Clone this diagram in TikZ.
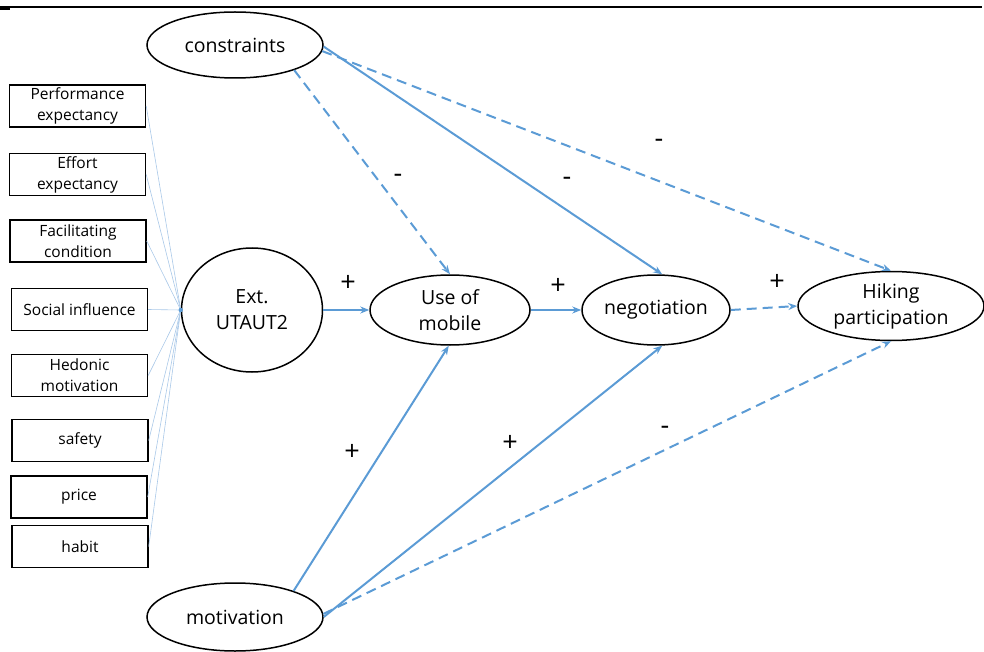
\documentclass[tikz,border=0pt]{standalone}
\usepackage{fontspec}
\setmainfont{Open Sans}
\usetikzlibrary{arrows.meta,shapes.geometric}
\definecolor{linkblue}{HTML}{5B9BD5}
\definecolor{thinblue}{HTML}{A9C8E8}

\begin{document}
\begin{tikzpicture}[x=1pt,y=-1pt,
  factor/.style={draw, line width=1.4pt, minimum width=136pt, minimum height=42pt,
    align=center, inner sep=0pt, font=\fontsize{15.5}{21}\selectfont},
  construct/.style={draw, ellipse, line width=1.5pt, align=center, inner sep=0pt,
    font=\fontsize{19.5}{26}\selectfont},
  link/.style={linkblue, line width=2pt, -{Stealth[length=9pt,width=7pt]}},
  dlink/.style={link, dash pattern=on 10pt off 6pt},
  sign/.style={font=\fontsize{27}{27}\selectfont},
  feed/.style={thinblue, line width=0.6pt}]

\useasboundingbox (0,0) rectangle (984,652);

% header rule
\draw[line width=1.5pt] (0,7) -- (982,7);
\draw[line width=2pt] (0,9) -- (10,9);

% observed factors
\node[factor] (pe) at (77.5,106)   {Performance\\expectancy};
\node[factor] (ee) at (77.5,174.5) {Effort\\expectancy};
\node[factor] (fc) at (78,241)     {Facilitating\\condition};
\node[factor] (si) at (79.5,309.5) {Social influence};
\node[factor] (hm) at (79.5,375.5) {Hedonic\\motivation};
\node[factor] (sa) at (80,440.5)   {safety};
\node[factor] (pr) at (79,497)     {price};
\node[factor] (ha) at (80,546.5)   {habit};

% latent constructs
\node[construct, minimum width=176pt, minimum height=66pt] (con) at (235,45) {constraints};
\node[construct, minimum width=176pt, minimum height=68pt] (mot) at (235,617) {motivation};
\node[construct, minimum width=141pt, minimum height=124pt] (ext) at (252,310) {Ext.\\UTAUT2};
\node[construct, minimum width=160pt, minimum height=70pt] (use) at (450,310) {Use of\\mobile};
\node[construct, minimum width=148pt, minimum height=70pt] (neg) at (656,310) {negotiation};
\node[construct, minimum width=186pt, minimum height=69pt] (hik) at (891,306) {Hiking\\participation};

% factor loadings
\foreach \f in {pe,ee,fc,si,hm,sa,pr,ha}
  \draw[feed] (\f.east) -- (ext.west);
\fill[linkblue] (ext.west) circle (2.2pt);

% structural paths
\draw[dlink] (con.-23) -- (use.north);
\draw[link]  (con.-1) -- (neg.80);
\draw[dlink] (con.-4) -- (hik.north);
\draw[link]  (ext.east) -- (use.west);
\draw[link]  (use.east) -- (neg.west);
\draw[dlink] (neg.east) -- (hik.west);
\draw[link]  (mot.24) -- (use.-92);
\draw[link]  (mot.east) -- (neg.-80);
\draw[dlink] (mot.2) -- (hik.south);

% path signs
\node[sign] (s1) at (398,178) {-};
\node[sign] (s2) at (567,181) {-};
\node[sign] (s3) at (659,143) {-};
\node[sign] (s4) at (348,283) {+};
\node[sign] (s5) at (558,286) {+};
\node[sign] (s6) at (777,282) {+};
\node[sign] (s7) at (352,452) {+};
\node[sign] (s8) at (510,443) {+};
\node[sign] (s9) at (665,430) {-};
\end{tikzpicture}
\end{document}
